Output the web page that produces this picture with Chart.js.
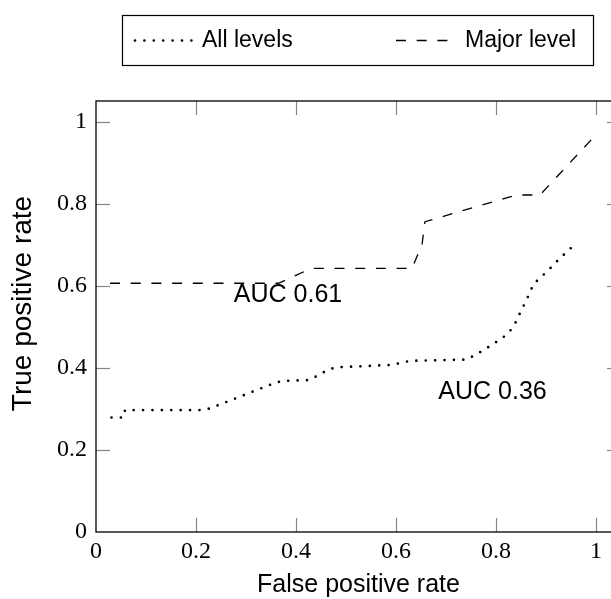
<!DOCTYPE html>
<html>
<head>
<meta charset="utf-8">
<script src="https://cdn.jsdelivr.net/npm/chart.js@4.4.1/dist/chart.umd.min.js"></script>
<style>
    html, body { margin: 0; padding: 0; background: #fff; overflow: hidden; }
    #wrap { width: 622px; height: 599px; }
</style>
</head>
<body>
<div id="wrap"><canvas id="rocChart" width="622" height="599"></canvas></div>
<script>
// ROC curve values
const allFpr = [0.031, 0.055, 0.058, 0.208, 0.228, 0.351, 0.371, 0.425, 0.445, 0.461, 0.478, 0.591, 0.628, 0.741, 0.761, 0.791, 0.821, 0.835, 0.851, 0.861, 0.875, 0.905, 0.928, 0.958];
const allTpr = [0.279, 0.279, 0.297, 0.297, 0.301, 0.360, 0.368, 0.370, 0.382, 0.393, 0.401, 0.407, 0.417, 0.420, 0.433, 0.455, 0.480, 0.500, 0.541, 0.565, 0.604, 0.638, 0.667, 0.701];

const majorFpr = [0.028, 0.365, 0.430, 0.632, 0.652, 0.658, 0.841, 0.888, 1.000];
const majorTpr = [0.606, 0.606, 0.642, 0.642, 0.700, 0.756, 0.821, 0.821, 0.968];

const seriesLabels = ['All levels', 'Major level'];
const xTicks = [0, 0.2, 0.4, 0.6, 0.8, 1];
const yTicks = [0, 0.2, 0.4, 0.6, 0.8, 1];

const aucText = ['AUC 0.61', 'AUC 0.36'];
const aucX = [0.384, 0.793];
const aucY = [0.577, 0.341];

const SANS = '"Liberation Sans", Arial, sans-serif';
const SERIF = '"Liberation Serif", "Times New Roman", serif';

function toPoints(xs, ys) {
    return xs.map((x, i) => ({ x, y: ys[i] }));
}

function strokeSeg(ctx, x0, y0, x1, y1) {
    ctx.beginPath();
    ctx.moveTo(x0, y0);
    ctx.lineTo(x1, y1);
    ctx.stroke();
}

// ticks inside the frame + black frame
const frameTicks = {
    id: 'frameTicks',
    afterDraw(chart) {
        const { ctx, chartArea: a } = chart;
        const xs = chart.scales.x;
        const ys = chart.scales.y;
        ctx.save();
        ctx.setLineDash([]);
        ctx.globalAlpha = 1;
        ctx.lineCap = 'butt';
        ctx.strokeStyle = '#858585';
        ctx.lineWidth = 1.2;
        xTicks.forEach((v) => {
            if (v === 0) return;
            const px = Math.round(xs.getPixelForValue(v)) + 0.5;
            strokeSeg(ctx, px, a.bottom, px, a.bottom - 14);
            strokeSeg(ctx, px, a.top, px, a.top + 14);
        });
        yTicks.forEach((v) => {
            if (v === 0) return;
            const py = Math.round(ys.getPixelForValue(v)) + 0.5;
            strokeSeg(ctx, a.left, py, a.left + 14, py);
            strokeSeg(ctx, a.right, py, a.right - 14, py);
        });

        ctx.strokeStyle = '#000';
        ctx.lineWidth = 1.3;
        ctx.strokeRect(a.left, a.top, a.right - a.left, a.bottom - a.top);
        ctx.restore();
    }
};

// y title: drawn by hand, it sits a bit above the plot centre in the original
const yTitle = {
    id: 'yTitle',
    afterDraw(chart) {
        const { ctx, chartArea: a } = chart;
        const t = chart.options.scales.y.title;
        ctx.save();
        ctx.translate(23, (a.top + a.bottom) / 2 - 13);
        ctx.rotate(-Math.PI / 2);
        ctx.fillStyle = '#000';
        ctx.font = '28px ' + SANS;
        ctx.textAlign = 'center';
        ctx.textBaseline = 'middle';
        ctx.fillText(t.text, 0, 0);
        ctx.restore();
    }
};

// AUC text placed in data coordinates
const aucLabels = {
    id: 'aucLabels',
    afterDatasetsDraw(chart) {
        const { ctx, scales: { x, y } } = chart;
        ctx.save();
        ctx.fillStyle = '#000';
        ctx.font = '25px ' + SANS;
        ctx.textAlign = 'center';
        ctx.textBaseline = 'middle';
        aucText.forEach((t, i) => {
            ctx.fillText(t, x.getPixelForValue(aucX[i]), y.getPixelForValue(aucY[i]));
        });
        ctx.restore();
    }
};

// boxed legend above the plot
const boxLegend = {
    id: 'boxLegend',
    afterDraw(chart) {
        const { ctx } = chart;
        const sets = chart.data.datasets;
        const items = [
            { x0: 135, x1: 193, tx: 202 },
            { x0: 396, x1: 449, tx: 465 }
        ];
        ctx.save();
        ctx.strokeStyle = '#000';
        ctx.lineWidth = 1.2;
        ctx.strokeRect(122.5, 15.5, 471, 50);
        items.forEach((it, i) => {
            const ds = sets[i];
            ctx.beginPath();
            ctx.lineWidth = ds.borderWidth;
            ctx.lineCap = ds.borderCapStyle;
            ctx.setLineDash(ds.borderDash);
            ctx.moveTo(it.x0, 40.5);
            ctx.lineTo(it.x1, 40.5);
            ctx.stroke();
            ctx.setLineDash([]);
            ctx.fillStyle = '#000';
            ctx.font = '23px ' + SANS;
            ctx.textAlign = 'left';
            ctx.textBaseline = 'alphabetic';
            ctx.fillText(ds.label, it.tx, 47);
        });
        ctx.restore();
    }
};

const chart = new Chart(document.getElementById('rocChart'), {
    type: 'scatter',
    data: {
        datasets: [
            {
                label: seriesLabels[0],
                data: toPoints(allFpr, allTpr),
                showLine: true,
                borderColor: '#000',
                borderWidth: 2.7,
                borderDash: [0, 9.4],
                borderCapStyle: 'round',
                pointRadius: 0,
                tension: 0
            },
            {
                label: seriesLabels[1],
                data: toPoints(majorFpr, majorTpr),
                showLine: true,
                borderColor: '#000',
                borderWidth: 1.3,
                borderDash: [10, 10.7],
                borderCapStyle: 'butt',
                pointRadius: 0,
                tension: 0
            }
        ]
    },
    options: {
        responsive: false,
        animation: false,
        layout: { padding: { top: 101, left: 0, right: 1, bottom: 0 } },
        plugins: {
            legend: { display: false },
            tooltip: { enabled: false }
        },
        scales: {
            x: {
                type: 'linear',
                min: 0,
                max: 1.05,
                grid: { display: false, drawTicks: false },
                border: { display: false },
                afterBuildTicks: (scale) => { scale.ticks = xTicks.map((v) => ({ value: v })); },
                afterFit: (scale) => { scale.height = 67; },
                ticks: {
                    padding: 5,
                    color: '#000',
                    font: { family: SERIF, size: 24 },
                    callback: (v) => String(Math.round(v * 10) / 10)
                },
                title: {
                    display: true,
                    text: 'False positive rate',
                    color: '#000',
                    font: { family: SANS, size: 25, lineHeight: 1.1 },
                    padding: 0
                }
            },
            y: {
                type: 'linear',
                min: 0,
                max: 1.05,
                grid: { display: false, drawTicks: false },
                border: { display: false },
                afterBuildTicks: (scale) => { scale.ticks = yTicks.map((v) => ({ value: v })); },
                afterFit: (scale) => { scale.width = 96; },
                ticks: {
                    padding: 9,
                    color: '#000',
                    font: { family: SERIF, size: 24 },
                    callback: (v) => String(Math.round(v * 10) / 10)
                },
                title: {
                    display: false,
                    text: 'True positive rate'
                }
            }
        }
    },
    plugins: [frameTicks, yTitle, aucLabels, boxLegend]
});
</script>
</body>
</html>
